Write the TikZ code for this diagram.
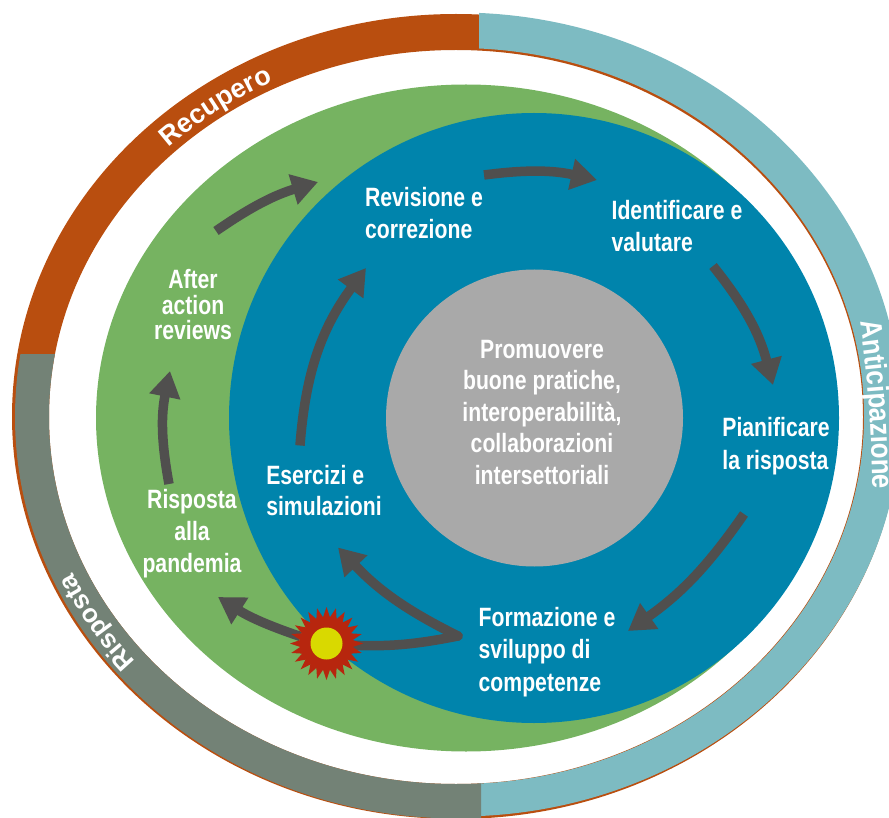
\documentclass[tikz,border=0pt]{standalone}
\usepackage{fontspec}
\setmainfont[FakeStretch=0.8]{Liberation Sans}
\newfontfamily\ringfont{Liberation Sans}
\newfontfamily\antfont[FakeStretch=0.86]{Liberation Sans}
\usetikzlibrary{arrows.meta,calc,shapes.geometric,decorations.text}
\definecolor{cOrange}{HTML}{B94E0F}
\definecolor{cTeal}{HTML}{7DBBC2}
\definecolor{cSlate}{HTML}{738276}
\definecolor{cGreen}{HTML}{76B361}
\definecolor{cBlue}{HTML}{0084AC}
\definecolor{cCore}{HTML}{A9A9A9}
\definecolor{cStar}{HTML}{B7260E}
\definecolor{cYellow}{HTML}{D9D900}
\definecolor{cArrow}{HTML}{504F4E}
\tikzset{
  lbl/.style={text=white,inner sep=0pt,font=\fontsize{26.5}{31.5}\selectfont\bfseries},
  lblL/.style={lbl,align=left},
  lblC/.style={lbl,align=center},
  arr/.style={draw=cArrow,line width=9.5pt,-{Triangle[length=26pt,width=30pt]}},
  link/.style={draw=cArrow,line width=9.5pt,line cap=round},
}
\begin{document}
\begin{tikzpicture}[x=1pt,y=-1pt]
\clip (0,0) rectangle (889,818);
% rings
\fill[cOrange,even odd rule] (456,416.5) ellipse [x radius=444pt,y radius=402.5pt] (456,417) ellipse [x radius=407pt,y radius=367pt];
\begin{scope}
  \clip (479,0) rectangle (889,818);
  \fill[cTeal,even odd rule] (458,414.5) ellipse [x radius=443pt,y radius=402pt] (458,416) ellipse [x radius=406pt,y radius=368pt];
\end{scope}
\begin{scope}
  \clip (0,354) rectangle (481,818);
  \fill[cSlate,even odd rule] (458,417) ellipse [x radius=443pt,y radius=401.5pt] (456,417) ellipse [x radius=407pt,y radius=367pt];
\end{scope}
% discs
\fill[cGreen] (466,418) ellipse [x radius=370pt,y radius=333.5pt];
\fill[cBlue] (534,418) circle [radius=305pt];
\node[circle,fill=cCore,minimum size=297pt,inner sep=0pt] (core) at (534.5,418) {};
% ring labels
\path[decorate,decoration={text along path,text color=white,text={|\fontsize{27}{27}\selectfont\ringfont\bfseries|Recupero}}]
  plot[domain=226:262,samples=30,smooth] ({456+414*cos(\x)},{416+373*sin(\x)});
\path[decorate,decoration={text along path,text color=white,text={|\fontsize{26}{26}\selectfont\ringfont\bfseries|Risposta}}]
  plot[domain=139.5:175,samples=30,smooth] ({456+421*cos(\x)},{416+378*sin(\x)});
\path[decorate,decoration={text along path,text color=white,text={|\fontsize{30}{30}\selectfont\antfont\bfseries|Anticipazione}}]
  (860,322) .. controls (868,370) and (872,430) .. (873,520);
% text nodes
\node[lblC] (cen) at (542,412.5) {Promuovere\\buone pratiche,\\interoperabilità,\\collaborazioni\\intersettoriali};
\node[lblL] (rev) at (424,213) {Revisione e\\correzione};
\node[lblL] (ident) at (677,226) {Identificare e\\valutare};
\node[lblL,font=\fontsize{26.5}{32.5}\selectfont\bfseries] (pian) at (776,446) {Pianificare\\la risposta};
\node[lblL,font=\fontsize{26.5}{32.5}\selectfont\bfseries] (form) at (547,652) {Formazione e\\sviluppo di\\competenze};
\node[lblL] (eser) at (324,490.5) {Esercizi e\\simulazioni};
\node[lblC,font=\fontsize{26.5}{32}\selectfont\bfseries] (risp) at (192,534) {Risposta\\alla\\pandemia};
\node[lblC,font=\fontsize{26.5}{25.5}\selectfont\bfseries] (after) at (193,305) {After\\action\\reviews};
% connectors
\coordinate (sc) at (326.5,643.5);
\draw[link] (sc) to[bend right=8] ($(form)+(-89,-16)$);
\draw[arr] ($(sc)+(-26,-7)$) to[bend left=7] ($(risp)+(26,63)$);
\draw[arr] ($(rev)+(60,-38)$) to[bend left=10] ($(ident)+(-80,-46)$);
\draw[arr] ($(ident)+(36,40)$) to[bend left=12] ($(pian)+(-3,-61)$);
\draw[arr] ($(pian)+(-32,68)$) to[bend left=10] ($(form)+(81,-21)$);
\draw[arr,line cap=round] ($(form)+(-89,-16)$) to[bend left=10] ($(eser)+(14,57)$);
\draw[arr] ($(eser)+(-24,-45)$) to[bend left=16] ($(rev)+(-58,55)$);
\draw[arr] ($(risp)+(-23,-50)$) to[bend left=11] ($(after)+(-23,66)$);
\draw[arr] ($(after)+(23,-74)$) to[bend left=9] ($(rev)+(-106,-31)$);
% burst
\node[star,star points=24,star point ratio=1.38,fill=cStar,minimum size=73pt,inner sep=0pt] (burst) at (sc) {};
\node[circle,fill=cYellow,minimum size=32pt,inner sep=0pt] (dot) at (sc) {};
\end{tikzpicture}
\end{document}
